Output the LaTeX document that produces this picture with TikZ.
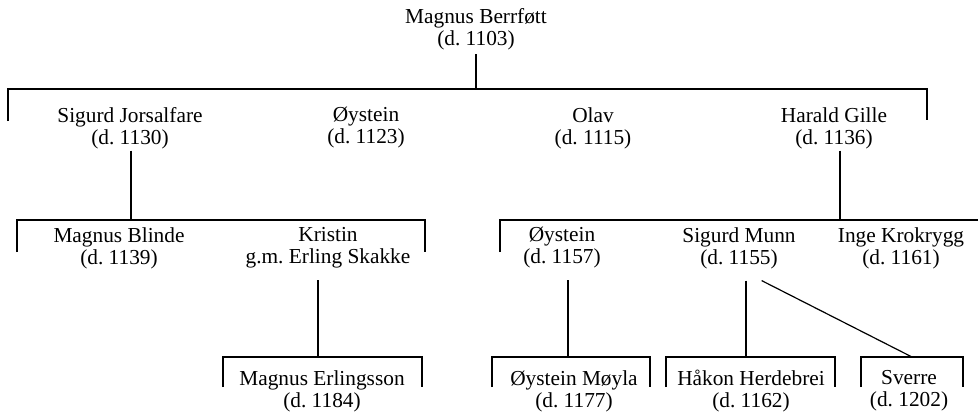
\documentclass[tikz,border=0pt]{standalone}
\usepackage{fontspec}
\setmainfont{Liberation Serif}
\usepackage{tikz}
\frenchspacing

\begin{document}
\begin{tikzpicture}[x=0.75pt,y=-0.75pt,line width=0.9pt,
        person/.style={align=center,inner sep=0pt,font=\fontsize{16}{16.5}\selectfont,
          execute at begin node={\vphantom{Å}}},
        stem/.style={shorten <=#1}]
        \useasboundingbox (0,0) rectangle (978,411);

        % people
        \node[person] (mb) at (476,29) {Magnus Berrføtt\\(d. 1103)};

        \node[person] (sj) at (130,128) {Sigurd Jorsalfare\\(d. 1130)};
        \node[person] (oy) at (366,128) {Øystein\\(d. 1123)};
        \node[person] (ol) at (593,128) {Olav\\(d. 1115)};
        \node[person] (hg) at (834,128) {Harald Gille\\(d. 1136)};

        \node[person] (mbl) at (119,248) {Magnus Blinde\\(d. 1139)};
        \node[person] (kr) at (328,248) {Kristin\\g.m. Erling Skakke};
        \node[person] (oyb) at (562,248) {Øystein\\(d. 1157)};
        \node[person] (sm) at (739,248) {Sigurd Munn\\(d. 1155)};
        \node[person] (ik) at (901,248) {Inge Krokrygg\\(d. 1161)};

        \node[person] (me) at (322,391) {Magnus Erlingsson\\(d. 1184)};
        \node[person] (om) at (574,391) {Øystein Møyla\\(d. 1177)};
        \node[person] (hh) at (751,391) {Håkon Herdebrei\\(d. 1162)};
        \node[person] (sv) at (909,391) {Sverre\\(d. 1202)};

        % brackets
        \coordinate (b1) at (476,89);
        \coordinate (b1l) at (8,121);
        \coordinate (b1r) at (927,120);
        \coordinate (b2) at (131,220);
        \coordinate (b2l) at (17,252);
        \coordinate (b2r) at (425,252);
        \coordinate (b3) at (840,220);
        \coordinate (b3l) at (500,252);
        \coordinate (b3r) at (978,220);
        \coordinate (b4) at (318,357);
        \coordinate (b4l) at (223,387);
        \coordinate (b4r) at (422,387);
        \coordinate (b5) at (568,357);
        \coordinate (b5l) at (492,387);
        \coordinate (b5r) at (650,387);
        \coordinate (b6) at (746,357);
        \coordinate (b6l) at (666,387);
        \coordinate (b6r) at (835,387);
        \coordinate (b7) at (912,357);
        \coordinate (b7l) at (861,387);
        \coordinate (b7r) at (963,387);

        \draw (b1l) |- (b1) -| (b1r);
        \draw (b2l) |- (b2) -| (b2r);
        \draw (b3l) |- (b3) -- (b3r);
        \draw (b4l) |- (b4) -| (b4r);
        \draw (b5l) |- (b5) -| (b5r);
        \draw (b6l) |- (b6) -| (b6r);
        \draw (b7l) |- (b7) -| (b7r);

        % descent
        \draw[stem=3pt] (mb.south -| b1) -- (b1);
        \draw[stem=1pt] (sj.south -| b2) -- (b2);
        \draw[stem=1pt] (hg.south -| b3) -- (b3);
        \draw[stem=8.5pt] (kr.south -| b4) -- (b4);
        \draw[stem=8.5pt] (oyb.south -| b5) -- (b5);
        \draw[stem=8.5pt] (sm.south -| b6) -- (b6);
        \draw ([xshift=17pt,yshift=-8.5pt]sm.south) -- (b7);
      \end{tikzpicture}
\end{document}
